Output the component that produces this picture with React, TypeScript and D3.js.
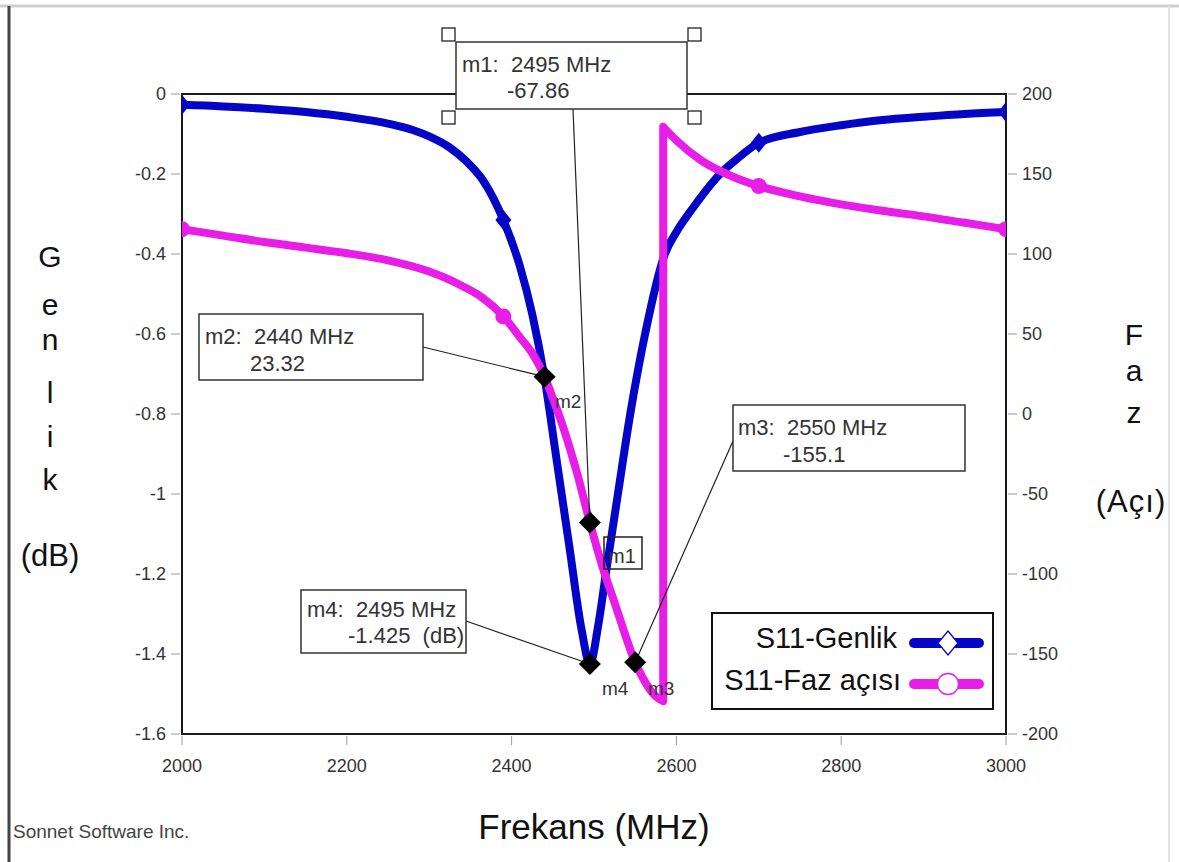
import React from 'react';
import * as d3 from 'd3';

// S11 magnitude (dB) against frequency (MHz)
const magFreq = [2000, 2050, 2100, 2150, 2200, 2250, 2280, 2300, 2325, 2345, 2365, 2390, 2410, 2425, 2440, 2455, 2470, 2485, 2495, 2505, 2515, 2529, 2544, 2562, 2586, 2600, 2620, 2653, 2675, 2700, 2750, 2800, 2850, 2900, 2950, 3000];
const magDb = [-0.027, -0.031, -0.037, -0.045, -0.057, -0.074, -0.09, -0.106, -0.134, -0.168, -0.215, -0.315, -0.43, -0.55, -0.71, -0.92, -1.13, -1.34, -1.425, -1.33, -1.19, -1.0, -0.8, -0.6, -0.4, -0.345, -0.285, -0.2, -0.16, -0.122, -0.095, -0.078, -0.065, -0.057, -0.05, -0.045];

// S11 phase (degrees): branch before the wrap at -180 and branch after it
const phaseFreqLow = [2000, 2050, 2100, 2150, 2200, 2250, 2300, 2340, 2365, 2390, 2410, 2425, 2440, 2450, 2465, 2480, 2495, 2510, 2525, 2550, 2565, 2575, 2584];
const phaseLow = [115.5, 111.5, 107.5, 104, 100.5, 96, 89, 80, 72.5, 61, 48, 38, 23.32, 10, -12, -38, -67.86, -95, -118, -155.1, -170, -176.5, -179.5];
const phaseFreqHigh = [2584, 2600, 2630, 2670, 2700, 2750, 2800, 2850, 2900, 2950, 3000];
const phaseHigh = [179.5, 171, 158.5, 148, 142.5, 136, 131, 127, 123.5, 119.5, 115.5];

// frequencies carrying the series symbols
const symbolFreqs = [2000, 2390, 2700, 3000];

const xTicks = [2000, 2200, 2400, 2600, 2800, 3000];
const xTickLabels = ['2000', '2200', '2400', '2600', '2800', '3000'];
const magTicks = [0, -0.2, -0.4, -0.6, -0.8, -1, -1.2, -1.4, -1.6];
const magTickLabels = ['0', '-0.2', '-0.4', '-0.6', '-0.8', '-1', '-1.2', '-1.4', '-1.6'];
const phaseTicks = [200, 150, 100, 50, 0, -50, -100, -150, -200];
const phaseTickLabels = ['200', '150', '100', '50', '0', '-50', '-100', '-150', '-200'];

// readout markers
const markerNames = ['m1', 'm2', 'm3', 'm4'];
const markerFreqs = [2495, 2440, 2550, 2495];
const markerValues = [-67.86, 23.32, -155.1, -1.425];
const markerAxis = ['phase', 'phase', 'phase', 'mag'];
const markerValueText = ['-67.86', '23.32', '-155.1', '-1.425  (dB)'];

const FONT = 'Arial, "Liberation Sans", Helvetica, sans-serif';
const BLUE = '#0505c8';
const MAGENTA = '#e81ee8';
const TEXT = '#333';

export default function App() {
  const W = 1179;
  const H = 862;
  const L = 182, R = 1006, T = 94, B = 734;

  const x = d3.scaleLinear().domain([2000, 3000]).range([L, R]);
  const yMag = d3.scaleLinear().domain([-1.6, 0]).range([B, T]);
  const yPh = d3.scaleLinear().domain([-200, 200]).range([B, T]);

  const magPts: [number, number][] = magFreq.map((f, i) => [f, magDb[i]]);
  const lowPts: [number, number][] = phaseFreqLow.map((f, i) => [f, phaseLow[i]]);
  const highPts: [number, number][] = phaseFreqHigh.map((f, i) => [f, phaseHigh[i]]);

  const magLine = d3.line<[number, number]>().x(d => x(d[0])).y(d => yMag(d[1])).curve(d3.curveMonotoneX);
  const phLine = d3.line<[number, number]>().x(d => x(d[0])).y(d => yPh(d[1])).curve(d3.curveMonotoneX);
  const lowPath = phLine(lowPts) as string;
  const highPath = phLine(highPts) as string;
  // the phase wraps from -180 to +180: join both branches with a vertical step
  const phasePath = lowPath + 'L' + highPath.slice(1);

  const magAt = (f: number) => magDb[magFreq.indexOf(f)];
  const phAt = (f: number) => {
    const i = phaseFreqLow.indexOf(f);
    if (i >= 0) return phaseLow[i];
    return phaseHigh[phaseFreqHigh.indexOf(f)];
  };

  const markerPos = markerNames.map((_, i) => ({
    x: x(markerFreqs[i]),
    y: markerAxis[i] === 'mag' ? yMag(markerValues[i]) : yPh(markerValues[i]),
  }));

  const diamond = (cx: number, cy: number, rx: number, ry: number) =>
    `M${cx},${cy - ry}L${cx + rx},${cy}L${cx},${cy + ry}L${cx - rx},${cy}Z`;

  // readout boxes: [x, y, w, h, text x, line1 baseline, value x, line2 baseline, leader x, leader y]
  const boxes = [
    [456, 42, 231, 67, 462, 72, 507, 98, 573, 109],
    [199, 314, 224, 66, 205, 344, 250, 371, 423, 347],
    [733, 405, 232, 66, 738, 435, 783, 462, 733, 441],
    [301, 590, 165, 63, 307, 617, 348, 643, 466, 621],
  ];

  const leftLetters = ['G', 'e', 'n', 'l', 'i', 'k'];
  const leftLetterY = [267, 315, 350, 403, 447, 490];
  const rightLetters = ['F', 'a', 'z'];
  const rightLetterY = [345, 381, 423];

  return (
    <svg width={W} height={H} style={{ position: 'absolute', left: 0, top: 0, background: '#fff' }} fontFamily={FONT}>
      <defs>
        <clipPath id="plotClip">
          <rect x={L} y={T} width={R - L} height={B - T} />
        </clipPath>
      </defs>
      <rect x={0} y={0} width={W} height={H} fill="#fff" />

      {/* page frame */}
      <line x1={0} y1={6} x2={W} y2={6} stroke="#cfcfcf" strokeWidth={3} />
      <line x1={9} y1={6} x2={9} y2={H} stroke="#444" strokeWidth={3} />
      <line x1={1169} y1={6} x2={1169} y2={H} stroke="#e4e4e4" strokeWidth={2} />

      {/* tick marks and labels */}
      {magTicks.map((t, i) => (
        <g key={'lt' + i}>
          <line x1={171} x2={180} y1={yMag(t)} y2={yMag(t)} stroke="#999" strokeWidth={1} />
          <text x={166} y={yMag(t) + 6} textAnchor="end" fontSize={18} fill={TEXT}>{magTickLabels[i]}</text>
        </g>
      ))}
      {phaseTicks.map((t, i) => (
        <g key={'rt' + i}>
          <line x1={1008} x2={1017} y1={yPh(t)} y2={yPh(t)} stroke="#999" strokeWidth={1} />
          <text x={1022} y={yPh(t) + 6} fontSize={18} fill={TEXT}>{phaseTickLabels[i]}</text>
        </g>
      ))}
      {xTicks.map((t, i) => (
        <g key={'bt' + i}>
          <line x1={x(t)} x2={x(t)} y1={736} y2={745} stroke="#999" strokeWidth={1} />
          <text x={x(t)} y={772} textAnchor="middle" fontSize={18} fill={TEXT}>{xTickLabels[i]}</text>
        </g>
      ))}

      {/* plot frame */}
      <rect x={L} y={T} width={R - L} height={B - T} fill="none" stroke="#1a1a1a" strokeWidth={2} />

      {/* series */}
      <g clipPath="url(#plotClip)">
        <path d={magLine(magPts) as string} fill="none" stroke={BLUE} strokeWidth={8} strokeLinejoin="round" />
        {symbolFreqs.map(f => (
          <path key={'bs' + f} d={diamond(x(f), yMag(magAt(f)), 8, 10)} fill={BLUE} />
        ))}
        <path d={phasePath} fill="none" stroke={MAGENTA} strokeWidth={8} strokeLinejoin="round" />
        {symbolFreqs.map(f => (
          <circle key={'ps' + f} cx={x(f)} cy={yPh(phAt(f))} r={8} fill={MAGENTA} />
        ))}
      </g>

      {/* readout leaders */}
      {boxes.map((b, i) => (
        <line key={'ld' + i} x1={b[8]} y1={b[9]} x2={markerPos[i].x} y2={markerPos[i].y} stroke="#222" strokeWidth={1.2} />
      ))}

      {/* marker diamonds */}
      {markerPos.map((p, i) => (
        <path key={'md' + i} d={diamond(p.x, p.y, 11, 11)} fill="#000" />
      ))}

      {/* marker names beside the curves */}
      <text x={555} y={408} fontSize={19} fill={TEXT}>{markerNames[1]}</text>
      <text x={602} y={695} fontSize={19} fill={TEXT}>{markerNames[3]}</text>
      <text x={648} y={695} fontSize={19} fill={TEXT}>{markerNames[2]}</text>
      <rect x={604} y={537} width={38} height={32} fill="none" stroke="#222" strokeWidth={1.5} />
      <text x={608} y={563} fontSize={20} fill={TEXT}>{markerNames[0]}</text>

      {/* readout boxes */}
      {boxes.map((b, i) => (
        <g key={'bx' + i}>
          <rect x={b[0]} y={b[1]} width={b[2]} height={b[3]} fill="#fff" stroke="#333" strokeWidth={1.5} />
          <text x={b[4]} y={b[5]} fontSize={22} fill={TEXT} style={{ whiteSpace: 'pre' }}>
            {`${markerNames[i]}:  ${markerFreqs[i]} MHz`}
          </text>
          <text x={b[6]} y={b[7]} fontSize={22} fill={TEXT} style={{ whiteSpace: 'pre' }}>{markerValueText[i]}</text>
        </g>
      ))}
      {/* selection handles on the m1 readout */}
      {[[442, 28], [688, 28], [442, 111], [688, 111]].map((h, i) => (
        <rect key={'hd' + i} x={h[0]} y={h[1]} width={13} height={13} fill="#fff" stroke="#222" strokeWidth={1.3} />
      ))}

      {/* legend */}
      <rect x={712} y={613} width={281} height={96} fill="#fff" stroke="#111" strokeWidth={2} />
      <text x={897} y={648} textAnchor="end" fontSize={29} fill="#111">S11-Genlik</text>
      <text x={901} y={690} textAnchor="end" fontSize={29} fill="#111">S11-Faz açısı</text>
      <line x1={914} x2={979} y1={643} y2={643} stroke={BLUE} strokeWidth={10} strokeLinecap="round" />
      <path d={diamond(948, 643, 10, 12)} fill="#fff" stroke={BLUE} strokeWidth={1.3} />
      <line x1={914} x2={979} y1={684} y2={684} stroke={MAGENTA} strokeWidth={10} strokeLinecap="round" />
      <circle cx={948} cy={684} r={10.5} fill="#fff" stroke={MAGENTA} strokeWidth={1.3} />

      {/* axis titles */}
      {leftLetters.map((c, i) => (
        <text key={'ll' + i} x={50} y={leftLetterY[i]} textAnchor="middle" fontSize={30} fill="#111">{c}</text>
      ))}
      <text x={50} y={566} textAnchor="middle" fontSize={31} fill="#111">(dB)</text>
      {rightLetters.map((c, i) => (
        <text key={'rl' + i} x={1134} y={rightLetterY[i]} textAnchor="middle" fontSize={30} fill="#111">{c}</text>
      ))}
      <text x={1131} y={512} textAnchor="middle" fontSize={31} letterSpacing={1} fill="#111">(Açı)</text>
      <text x={594} y={839} textAnchor="middle" fontSize={35} fill="#111">Frekans (MHz)</text>
      <text x={13} y={838} fontSize={19} fill="#444">Sonnet Software Inc.</text>
    </svg>
  );
}
